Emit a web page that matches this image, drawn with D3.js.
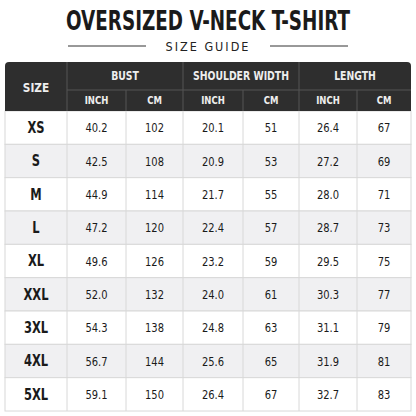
<!DOCTYPE html>
<html><head><meta charset="utf-8">
<script src="https://cdn.jsdelivr.net/npm/d3@7"></script>
<style>body{margin:0;background:#fff}svg{display:block}text{font-stretch:condensed}</style>
</head><body><div id="chart"></div>
<script>
// table data
const sizes = ["XS","S","M","L","XL","XXL","3XL","4XL","5XL"];
const bustInch = [40.2,42.5,44.9,47.2,49.6,52.0,54.3,56.7,59.1];
const bustCm = [102,108,114,120,126,132,138,144,150];
const shoulderInch = [20.1,20.9,21.7,22.4,23.2,24.0,24.8,25.6,26.4];
const shoulderCm = [51,53,55,57,59,61,63,65,67];
const lengthInch = [26.4,27.2,28.0,28.7,29.5,30.3,31.1,31.9,32.7];
const lengthCm = [67,69,71,73,75,77,79,81,83];
const groups = ["BUST","SHOULDER WIDTH","LENGTH"];
const units = ["INCH","CM"];

const W = 416, H = 416;
const font = "'DejaVu Sans Condensed','DejaVu Sans',sans-serif";
const svg = d3.select("#chart").append("svg").attr("width", W).attr("height", H);

// column edges
const colEdges = [5,67,126,183,243,299,357,411];
const cols = [sizes, bustInch, bustCm, shoulderInch, shoulderCm, lengthInch, lengthCm];
const fmt = (v, i) => (i % 2 === 1 ? d3.format(".1f")(v) : v);

const y = d3.scaleBand().domain(sizes).range([111, 411]);

// squeeze text horizontally around its anchor
function narrow(sel, k) {
  sel.attr("transform", function() {
    const x = +this.getAttribute("x");
    return `translate(${x},0) scale(${k},1) translate(${-x},0)`;
  });
}

// title
svg.append("text").attr("x", W/2).attr("y", 30).attr("text-anchor","middle")
  .style("font-family", font).style("font-weight","bold").style("font-size","26px")
  .attr("textLength", 284).attr("lengthAdjust","spacingAndGlyphs")
  .attr("fill","#1a1a1a").text("OVERSIZED V-NECK T-SHIRT");
svg.append("text").attr("x", W/2).attr("y", 51).attr("text-anchor","middle")
  .style("font-family","'DejaVu Sans',sans-serif").style("font-size","12.5px")
  .style("letter-spacing","2px").attr("fill","#222").text("SIZE GUIDE");
svg.append("line").attr("x1",68).attr("x2",146).attr("y1",46).attr("y2",46).attr("stroke","#333");
svg.append("line").attr("x1",270).attr("x2",348).attr("y1",46).attr("y2",46).attr("stroke","#333");

// body rows
const body = svg.append("g");
body.selectAll("rect.row").data(sizes).join("rect")
  .attr("x", 5).attr("width", 406).attr("y", d => y(d)).attr("height", y.bandwidth())
  .attr("fill", (d, i) => i % 2 ? "#f0f0f2" : "#fff").attr("stroke","#d8d8d8");
colEdges.slice(1, -1).forEach(x => body.append("line")
  .attr("x1", x).attr("x2", x).attr("y1", 111).attr("y2", 411).attr("stroke","#d8d8d8"));

cols.forEach((col, ci) => {
  const cx = (colEdges[ci] + colEdges[ci+1]) / 2;
  body.selectAll(null).data(col).join("text")
    .attr("x", cx).attr("y", (d, i) => y(sizes[i]) + y.bandwidth()/2)
    .attr("dy","0.35em").attr("text-anchor","middle")
    .style("font-family", font).style("font-size", ci === 0 ? "15px" : "13px")
    .style("font-weight", ci === 0 ? "bold" : "normal").attr("fill","#1a1a1a")
    .text(d => fmt(d, ci))
    .call(narrow, 0.85);
});

// header
const head = svg.append("g");
head.append("path").attr("d", `M5,111 V66 Q5,62 9,62 H407 Q411,62 411,66 V111 Z`).attr("fill","#2e2e2e");
head.append("text").attr("x", 36).attr("y", 87).attr("dy","0.35em").attr("text-anchor","middle")
  .style("font-family", font).style("font-weight","bold").style("font-size","13px")
  .attr("fill","#eee").text("SIZE").call(narrow, 0.9);
groups.forEach((g, gi) => {
  const x0 = colEdges[1 + gi*2], x1 = colEdges[3 + gi*2];
  head.append("line").attr("x1", x0).attr("x2", x0).attr("y1", 62).attr("y2", 111).attr("stroke","#555");
  head.append("line").attr("x1", x0).attr("x2", x1).attr("y1", 90).attr("y2", 90).attr("stroke","#555");
  head.append("line").attr("x1", colEdges[2 + gi*2]).attr("x2", colEdges[2 + gi*2])
    .attr("y1", 90).attr("y2", 111).attr("stroke","#555");
  head.append("text").attr("x", (x0 + x1)/2).attr("y", 76).attr("dy","0.35em").attr("text-anchor","middle")
    .style("font-family", font).style("font-weight","bold").style("font-size","11.5px")
    .attr("fill","#eee").text(g).call(narrow, 0.9);
  units.forEach((u, ui) => {
    const a = colEdges[1 + gi*2 + ui], b = colEdges[2 + gi*2 + ui];
    head.append("text").attr("x", (a + b)/2).attr("y", 100.5).attr("dy","0.35em").attr("text-anchor","middle")
      .style("font-family", font).style("font-weight","bold").style("font-size","10.5px")
      .attr("fill","#eee").text(u).call(narrow, 0.9);
  });
});
</script></body></html>
